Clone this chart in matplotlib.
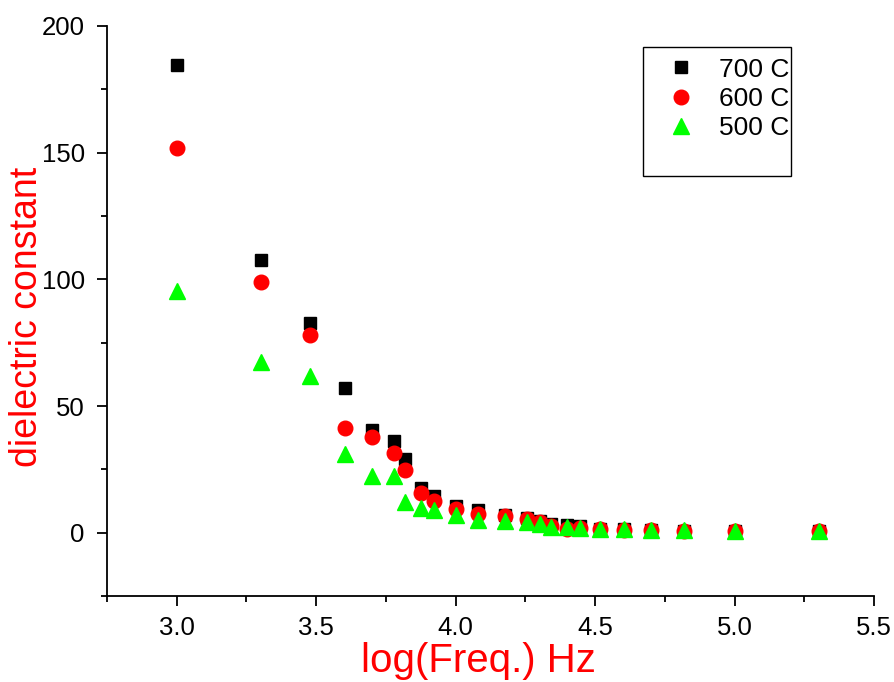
import matplotlib
matplotlib.use("Agg")
import matplotlib.pyplot as plt
from matplotlib.patches import Rectangle
from matplotlib.ticker import MultipleLocator

plt.rcParams['font.family'] = ['Liberation Sans', 'DejaVu Sans']

# log(Freq.) values
log_freq = [3.0, 3.301, 3.477, 3.602, 3.699, 3.778, 3.820, 3.875, 3.924, 4.0,
            4.079, 4.176, 4.255, 4.301, 4.342, 4.398, 4.447, 4.518, 4.602,
            4.699, 4.820, 5.0, 5.301]

# dielectric constant for each annealing temperature
eps_700 = [184.5, 107.5, 82.9, 57.1, 40.5, 36.1, 29.0, 17.5, 14.3, 10.7,
           9.1, 7.1, 5.8, 4.8, 3.6, 3.2, 2.6, 1.6, 1.3, 1.0, 0.8, 0.7, 0.6]
eps_600 = [152.0, 98.8, 78.2, 41.3, 37.7, 31.3, 24.6, 15.5, 12.7, 9.5,
           7.5, 6.7, 5.6, 4.4, 2.8, 1.6, 2.0, 1.4, 1.1, 0.9, 0.7, 0.6, 0.5]
eps_500 = [95.3, 67.2, 62.0, 31.0, 22.4, 22.2, 12.3, 9.9, 9.1, 7.1,
           5.2, 4.8, 4.4, 3.6, 2.4, 2.4, 2.0, 1.6, 1.3, 1.1, 0.9, 0.8, 0.7]

labels = ["700 C", "600 C", "500 C"]

fig = plt.figure(figsize=(8.94, 6.82), dpi=100)
ax = fig.add_axes([0.1197, 0.126, 0.858, 0.836])

ax.plot(log_freq, eps_700, linestyle="none", marker="s", markersize=9.2,
        color="black", label=labels[0])
ax.plot(log_freq, eps_600, linestyle="none", marker="o", markersize=10.5,
        color="#ff0000", label=labels[1])
ax.plot(log_freq, eps_500, linestyle="none", marker="^", markersize=11.5,
        color="#00ff00", label=labels[2])

ax.set_xlim(2.75, 5.5)
ax.set_ylim(-25, 200)
ax.xaxis.set_major_locator(MultipleLocator(0.5))
ax.xaxis.set_minor_locator(MultipleLocator(0.25))
ax.yaxis.set_major_locator(MultipleLocator(50))
ax.yaxis.set_minor_locator(MultipleLocator(25))
ax.xaxis.set_major_formatter(matplotlib.ticker.FormatStrFormatter("%.1f"))

for s in ["top", "right"]:
    ax.spines[s].set_visible(False)
for s in ["left", "bottom"]:
    ax.spines[s].set_linewidth(1.3)

ax.tick_params(which="major", direction="out", length=7, width=1.3,
               labelsize=18.5, pad=7)
ax.tick_params(axis="y", which="major", pad=9)
ax.tick_params(which="minor", direction="out", length=4, width=1.3)

ax.set_xlabel("log(Freq.) Hz", color="red", fontsize=29, labelpad=2)
ax.xaxis.label.set_x(0.484)
ax.set_ylabel("dielectric constant", color="red", fontsize=27, labelpad=-2.5)
ax.yaxis.label.set_y(0.49)

leg = ax.legend(loc="upper left", bbox_to_anchor=(0.697, 0.986), frameon=False,
                fontsize=19, handletextpad=0.85, labelspacing=0.2,
                handlelength=1.2)

ax.add_patch(Rectangle((0.699, 0.737), 0.193, 0.226, transform=ax.transAxes,
                       fill=False, edgecolor="black", linewidth=1.0,
                       clip_on=False))

fig.savefig("out.png", dpi=100)
